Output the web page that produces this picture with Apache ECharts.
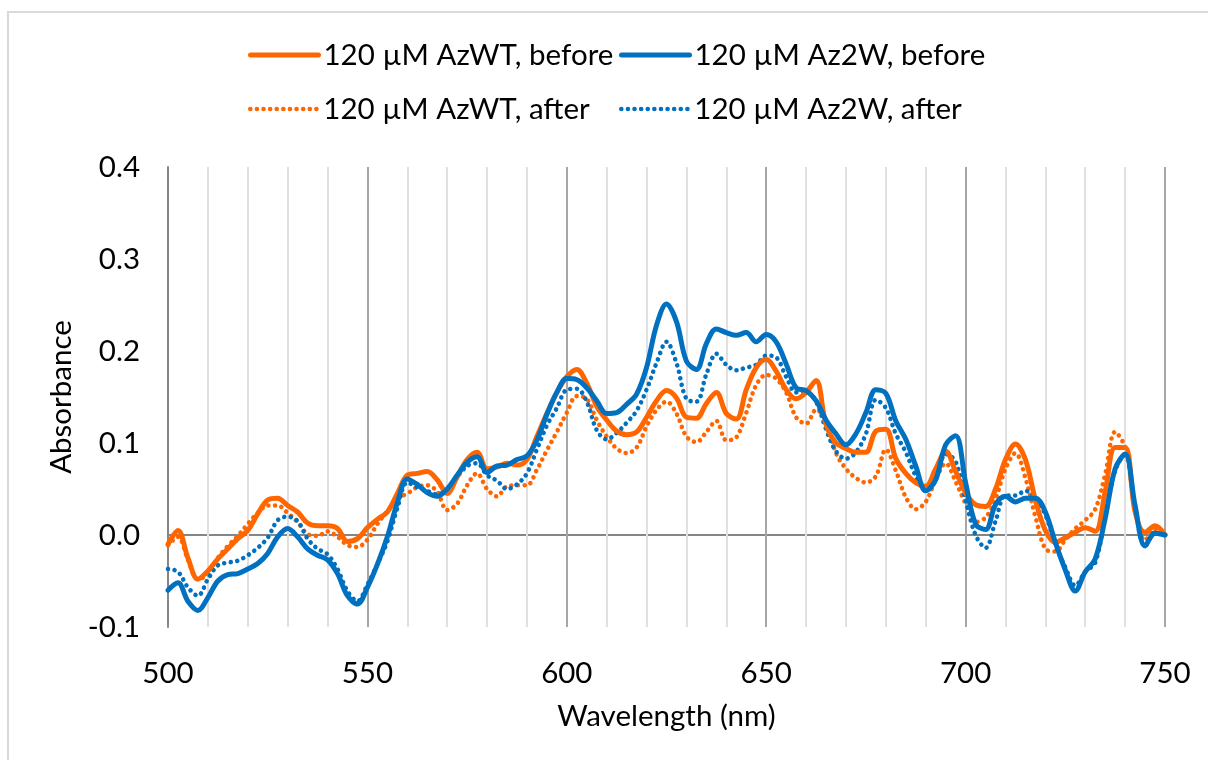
<!DOCTYPE html>
<html>
<head>
<meta charset="utf-8">
<title>Absorbance</title>
<style>
    html, body { margin: 0; padding: 0; background: #fff; }
    #frame {
        position: absolute; left: 7px; top: 11px;
        width: 1300px; height: 900px;
        border-left: 2px solid #d9d9d9; border-top: 2px solid #d9d9d9;
    }
    #container { position: absolute; left: 0; top: 0; width: 1208px; height: 760px; }
</style>
</head>
<body>
<div id="frame"></div>
<div id="container"></div>
<script src="https://cdn.jsdelivr.net/npm/echarts@6/dist/echarts.min.js"></script>
<script>
    // wavelength grid, 2.5 nm steps
    var wavelength = [];
    for (var w = 500; w <= 750; w += 2.5) wavelength.push(w);

    var seriesNames = ['120 µM AzWT, before', '120 µM Az2W, before', '120 µM AzWT, after', '120 µM Az2W, after'];
    var yTicks = [-0.1, 0, 0.1, 0.2, 0.3, 0.4];

    var azwtBefore = [
        -0.010, 0.005, -0.025, -0.048, -0.039, -0.026, -0.015, -0.004, 0.005, 0.023,
        0.038, 0.040, 0.032, 0.025, 0.013, 0.010, 0.010, 0.007, -0.007, -0.004,
        0.008, 0.017, 0.025, 0.045, 0.065, 0.067, 0.069, 0.060, 0.045, 0.063,
        0.082, 0.090, 0.072, 0.074, 0.078, 0.076, 0.082, 0.107, 0.132, 0.155,
        0.172, 0.180, 0.165, 0.140, 0.125, 0.113, 0.109, 0.112, 0.128, 0.146,
        0.157, 0.149, 0.128, 0.127, 0.143, 0.155, 0.132, 0.126, 0.158, 0.182,
        0.191, 0.178, 0.158, 0.148, 0.155, 0.168, 0.120, 0.100, 0.094, 0.090,
        0.090, 0.113, 0.115, 0.083, 0.067, 0.057, 0.053, 0.072, 0.091, 0.069,
        0.046, 0.033, 0.031, 0.050, 0.082, 0.099, 0.082, 0.038, 0.005, -0.008,
        -0.003, 0.003, 0.008, 0.004, 0.047, 0.095, 0.095, 0.025, 0.003, 0.010,
        0.000
    ];
    var az2wBefore = [
        -0.060, -0.052, -0.072, -0.082, -0.068, -0.050, -0.043, -0.042, -0.037, -0.031,
        -0.020, -0.002, 0.007, -0.002, -0.015, -0.022, -0.027, -0.042, -0.066, -0.075,
        -0.057, -0.032, -0.002, 0.035, 0.061, 0.055, 0.046, 0.042, 0.050, 0.065,
        0.079, 0.085, 0.068, 0.075, 0.076, 0.082, 0.086, 0.103, 0.131, 0.155,
        0.170, 0.169, 0.160, 0.146, 0.132, 0.133, 0.142, 0.153, 0.182, 0.228,
        0.251, 0.232, 0.189, 0.180, 0.208, 0.224, 0.220, 0.217, 0.220, 0.210,
        0.218, 0.210, 0.186, 0.160, 0.157, 0.146, 0.125, 0.110, 0.098, 0.110,
        0.133, 0.158, 0.154, 0.124, 0.104, 0.075, 0.048, 0.060, 0.098, 0.108,
        0.057, 0.012, 0.006, 0.033, 0.042, 0.036, 0.040, 0.040, 0.025, -0.008,
        -0.038, -0.061, -0.040, -0.026, 0.018, 0.072, 0.088, 0.032, -0.012, 0.002,
        0.000
    ];
    var azwtAfter = [
        -0.011, -0.002, -0.027, -0.048, -0.043, -0.025, -0.012, -0.001, 0.012, 0.024,
        0.032, 0.032, 0.024, 0.014, 0.001, -0.001, 0.004, -0.002, -0.011, -0.013,
        -0.005, 0.012, 0.026, 0.040, 0.045, 0.052, 0.054, 0.047, 0.027, 0.034,
        0.054, 0.067, 0.050, 0.042, 0.053, 0.054, 0.054, 0.071, 0.092, 0.112,
        0.133, 0.151, 0.148, 0.125, 0.107, 0.094, 0.089, 0.095, 0.118, 0.136,
        0.145, 0.132, 0.107, 0.101, 0.112, 0.124, 0.103, 0.106, 0.133, 0.163,
        0.174, 0.170, 0.155, 0.128, 0.121, 0.136, 0.124, 0.089, 0.072, 0.062,
        0.057, 0.064, 0.093, 0.070, 0.041, 0.028, 0.036, 0.060, 0.078, 0.058,
        0.034, 0.014, 0.019, 0.039, 0.072, 0.089, 0.062, 0.020, -0.015, -0.018,
        -0.005, 0.007, 0.016, 0.028, 0.066, 0.112, 0.095, 0.030, -0.006, 0.006,
        0.000
    ];
    var az2wAfter = [
        -0.037, -0.040, -0.057, -0.066, -0.048, -0.033, -0.030, -0.028, -0.022, -0.014,
        -0.003, 0.016, 0.020, 0.015, -0.004, -0.015, -0.021, -0.037, -0.061, -0.072,
        -0.054, -0.032, -0.007, 0.029, 0.057, 0.052, 0.048, 0.044, 0.050, 0.063,
        0.075, 0.078, 0.065, 0.059, 0.050, 0.055, 0.067, 0.093, 0.119, 0.138,
        0.158, 0.159, 0.145, 0.114, 0.104, 0.111, 0.122, 0.135, 0.158, 0.187,
        0.210, 0.187, 0.148, 0.145, 0.175, 0.197, 0.185, 0.179, 0.182, 0.185,
        0.195, 0.193, 0.172, 0.155, 0.156, 0.145, 0.115, 0.091, 0.083, 0.090,
        0.110, 0.147, 0.138, 0.110, 0.090, 0.064, 0.048, 0.060, 0.088, 0.080,
        0.038, 0.000, -0.014, 0.015, 0.043, 0.043, 0.048, 0.040, 0.022, -0.010,
        -0.035, -0.055, -0.040, -0.030, 0.020, 0.070, 0.088, 0.030, -0.012, 0.003,
        0.000
    ];

    var ORANGE = '#FF6600';
    var BLUE = '#0070C0';
    var FONT = 'Lato, "Liberation Sans", sans-serif';
    var FS = 29.5;

    var SOLID = {width: 5, type: 'solid', cap: 'round', join: 'round'};
    var DOTS = {width: 4.6, type: [0.01, 6.6], cap: 'round', join: 'round'};

    function pairs(ys) {
        return wavelength.map(function (x, i) { return [x, ys[i]]; });
    }

    var dom = document.getElementById('container');
    var myChart = echarts.init(dom, null, {renderer: 'canvas'});

    var textStyle = {fontFamily: FONT, fontSize: FS, color: '#000'};

    function legendAt(name, left, top, style) {
        return {
            data: [name],
            left: left,
            top: top,
            itemWidth: 68,
            itemHeight: 14,
            itemGap: 0,
            textStyle: textStyle,
            itemStyle: {opacity: 0},
            lineStyle: {width: style.width, type: style.type, cap: style.cap},
            selectedMode: false
        };
    }

    function lineSeries(name, ys, color, style) {
        return {
            name: name,
            type: 'line',
            data: pairs(ys),
            smooth: 0.35,
            symbol: 'none',
            lineStyle: {color: color, width: style.width, type: style.type, cap: style.cap, join: style.join},
            itemStyle: {color: color}
        };
    }

    var option = {
        animation: false,
        backgroundColor: 'transparent',
        legend: [
            legendAt(seriesNames[0], 243, 35, SOLID),
            legendAt(seriesNames[1], 614, 35, SOLID),
            legendAt(seriesNames[2], 243, 89, DOTS),
            legendAt(seriesNames[3], 614, 89, DOTS)
        ],
        grid: {left: 168, right: 43, top: 167, bottom: 133},
        xAxis: {
            type: 'value',
            min: 500,
            max: 750,
            interval: 50,
            name: 'Wavelength (nm)',
            nameLocation: 'middle',
            nameGap: 74,
            nameTextStyle: textStyle,
            axisLine: {show: false},
            axisTick: {show: false},
            axisLabel: {margin: 31, fontFamily: FONT, fontSize: FS, color: '#000'},
            splitLine: {show: true, lineStyle: {color: '#a6a6a6', width: 2}},
            minorTick: {show: false, splitNumber: 5},
            minorSplitLine: {show: true, lineStyle: {color: '#e0e0e0', width: 2}}
        },
        yAxis: {
            type: 'value',
            min: -0.1,
            max: 0.4,
            interval: 0.1,
            name: 'Absorbance',
            nameLocation: 'middle',
            nameRotate: 90,
            nameGap: 90,
            nameTextStyle: textStyle,
            axisLine: {show: true, lineStyle: {color: '#868686', width: 2}},
            axisTick: {show: false},
            axisLabel: {
                margin: 28,
                fontFamily: FONT, fontSize: FS, color: '#000',
                formatter: function (v) { return (Math.round(v * 10) / 10).toFixed(1); }
            },
            splitLine: {
                show: true,
                lineStyle: {
                    width: 2,
                    color: yTicks.map(function (t) { return Math.abs(t) < 1e-9 ? '#868686' : 'rgba(0,0,0,0)'; })
                }
            }
        },
        series: [
            lineSeries(seriesNames[2], azwtAfter, ORANGE, DOTS),
            lineSeries(seriesNames[3], az2wAfter, BLUE, DOTS),
            lineSeries(seriesNames[0], azwtBefore, ORANGE, SOLID),
            lineSeries(seriesNames[1], az2wBefore, BLUE, SOLID)
        ]
    };

    if (option && typeof option === 'object') {
        myChart.setOption(option, true);
    }
</script>
</body>
</html>
